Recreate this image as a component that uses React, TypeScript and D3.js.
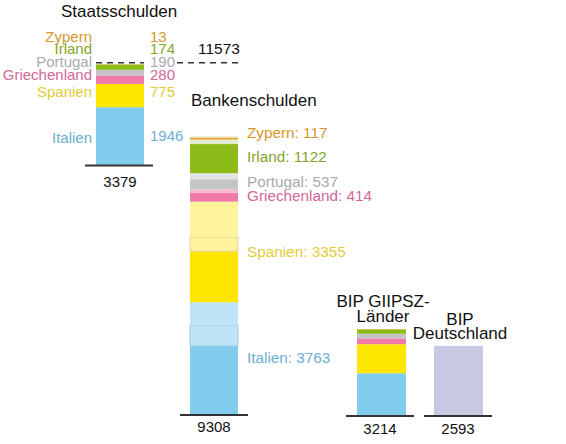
import React from "react";
import * as d3 from "d3";

// ---- data ----
const countries = ["Zypern", "Irland", "Portugal", "Griechenland", "Spanien", "Italien"];
const staatsValues = [13, 174, 190, 280, 775, 1946];
const bankValues = [117, 1122, 537, 414, 3355, 3763];
const bankDark = [67, 970, 335, 300, 1700, 2302];
const bankBox = [0, 0, 0, 0, 470, 700];
const gdpGiipsz = [18, 158, 170, 215, 1073, 1580];
const gdpGermany = 2593;
const totals = { staats: 3379, bank: 9308, giipsz: 3214, germany: 2593, combined: 11573 };

// ---- styles ----
const barColors = ["#e8a31e", "#8dbb1a", "#c3c5c7", "#f07aa8", "#ffe600", "#80cdee"];
const lightColors = ["#efe9de", "#e3ebd3", "#e2e3e4", "#f6bad0", "#fff39e", "#bfe4f7"];
const boxStroke = ["#ccc", "#ccc", "#ccc", "#ccc", "#ddd39a", "#9fcbe2"];
const textColors = ["#d9962a", "#85a52b", "#a9aaab", "#d16899", "#e3cc36", "#6cb0d2"];
const germanyColor = "#c9c8e3";
const FONT = "'Liberation Sans', Arial, Helvetica, sans-serif";

// label layout (baselines)
const staatsLabelY = [42, 54, 67, 80, 97, 143];
const staatsValueY = [42, 54, 67, 80, 97, 141];
const bankLabelY = [138, 162, 187, 201, 257, 363];

export default function App() {
  const debtH = d3.scaleLinear().domain([0, totals.bank]).range([0, 279]);
  const gdpH = d3.scaleLinear().domain([0, totals.giipsz]).range([0, 87]);

  const staatsBase = 165.5;
  const bankBase = 415;
  const gdpBase = 416;

  // stacks from bottom (Italien) to top (Zypern)
  const order = d3.range(countries.length).reverse();

  const stackSimple = (vals: number[], scale: (v: number) => number, base: number) => {
    let cum = 0;
    const out: { i: number; y: number; h: number }[] = [];
    order.forEach((i) => {
      const y0 = base - scale(cum);
      cum += vals[i];
      const y1 = base - scale(cum);
      out.push({ i, y: y1, h: y0 - y1 });
    });
    return out;
  };

  const staatsSegs = stackSimple(staatsValues, debtH, staatsBase);
  const gdpSegs = stackSimple(gdpGiipsz, gdpH, gdpBase);

  // bank segments: dark (bottom), box, light (top)
  const bankRects: { key: string; y: number; h: number; fill: string; stroke?: string }[] = [];
  {
    let cum = 0;
    order.forEach((i) => {
      const parts = [
        { v: bankDark[i], fill: barColors[i], stroke: undefined as string | undefined, t: "d" },
        { v: bankBox[i], fill: lightColors[i], stroke: boxStroke[i], t: "b" },
        { v: bankValues[i] - bankDark[i] - bankBox[i], fill: lightColors[i], stroke: undefined, t: "l" },
      ];
      parts.forEach((p) => {
        if (p.v <= 0) return;
        const y0 = bankBase - debtH(cum);
        cum += p.v;
        const y1 = bankBase - debtH(cum);
        bankRects.push({ key: countries[i] + p.t, y: y1, h: y0 - y1, fill: p.fill, stroke: p.stroke });
      });
    });
  }

  const staatsX = 96, barW = 48;
  const bankX = 190;
  const gdpX = 357;
  const deX = 434;

  const staatsTop = staatsBase - debtH(totals.staats);
  const deH = gdpH(gdpGermany);

  return (
    <svg width={566} height={444} style={{ position: "absolute", left: 0, top: 0, background: "#fff" }} fontFamily={FONT}>
      <rect width={566} height={444} fill="#fff" />
      {/* Staatsschulden */}
      <text x={61} y={17} fontSize={17} fill="#111">Staatsschulden</text>
      {staatsSegs.map((s) => (
        <rect key={"s" + s.i} x={staatsX} y={s.y} width={barW} height={s.h} fill={barColors[s.i]} />
      ))}
      {countries.map((c, i) => (
        <text key={"sl" + c} x={92} y={staatsLabelY[i]} fontSize={15} fill={textColors[i]} textAnchor="end">{c}</text>
      ))}
      {staatsValues.map((v, i) => (
        <text key={"sv" + i} x={150} y={staatsValueY[i]} fontSize={15} fill={textColors[i]}>{v}</text>
      ))}
      <line x1={staatsX} x2={staatsX + barW} y1={staatsTop - 1.5} y2={staatsTop - 1.5} stroke="#333" strokeWidth={1.5} strokeDasharray="6,5" />
      <line x1={177} x2={241} y1={staatsTop - 1.5} y2={staatsTop - 1.5} stroke="#333" strokeWidth={1.5} strokeDasharray="6,5" />
      <text x={198} y={54} fontSize={15.5} fill="#111">{totals.combined}</text>
      <line x1={85} x2={153} y1={staatsBase} y2={staatsBase} stroke="#333" strokeWidth={2} />
      <text x={120} y={187} fontSize={15} fill="#111" textAnchor="middle">{totals.staats}</text>

      {/* Bankenschulden */}
      <text x={191} y={106} fontSize={17} fill="#111">Bankenschulden</text>
      {bankRects.map((r) => (
        <rect key={r.key} x={bankX} y={r.y} width={barW} height={r.h} fill={r.fill}
          stroke={r.stroke || "none"} strokeWidth={r.stroke ? 1 : 0} />
      ))}
      {countries.map((c, i) => (
        <text key={"bl" + c} x={247} y={bankLabelY[i]} fontSize={15.3} fill={textColors[i]}>{c + ": " + bankValues[i]}</text>
      ))}
      <line x1={180} x2={248} y1={bankBase} y2={bankBase} stroke="#333" strokeWidth={2} />
      <text x={214} y={432} fontSize={15} fill="#111" textAnchor="middle">{totals.bank}</text>

      {/* BIP GIIPSZ */}
      <text x={383} y={307} fontSize={17} fill="#111" textAnchor="middle">BIP GIIPSZ-</text>
      <text x={383} y={322} fontSize={17} fill="#111" textAnchor="middle">Länder</text>
      {gdpSegs.map((s) => (
        <rect key={"g" + s.i} x={gdpX} y={s.y} width={49} height={s.h} fill={barColors[s.i]} />
      ))}
      <line x1={346} x2={414} y1={gdpBase} y2={gdpBase} stroke="#333" strokeWidth={2} />
      <text x={380} y={434} fontSize={15} fill="#111" textAnchor="middle">{totals.giipsz}</text>

      {/* BIP Deutschland */}
      <text x={460} y={325} fontSize={17} fill="#111" textAnchor="middle">BIP</text>
      <text x={460} y={339} fontSize={17} fill="#111" textAnchor="middle">Deutschland</text>
      <rect x={deX} y={gdpBase - deH} width={49} height={deH} fill={germanyColor} />
      <line x1={424} x2={492} y1={gdpBase} y2={gdpBase} stroke="#333" strokeWidth={2} />
      <text x={458} y={434} fontSize={15} fill="#111" textAnchor="middle">{totals.germany}</text>
    </svg>
  );
}
